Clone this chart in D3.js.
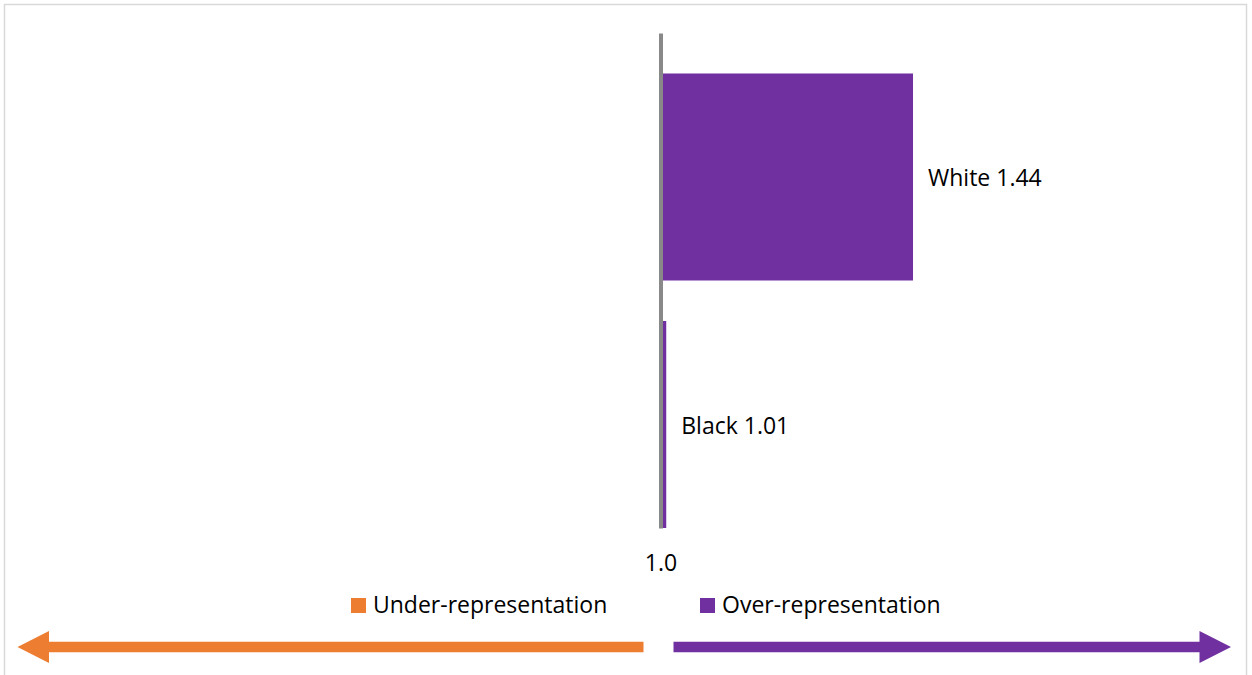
<!DOCTYPE html>
<html><head><meta charset="utf-8">
<script src="https://cdn.jsdelivr.net/npm/d3@7"></script>
<style>html,body{margin:0;padding:0;background:#fff;overflow:hidden}</style>
</head><body><svg id="c" width="1252" height="675"></svg>
<script>
const categories = ["White", "Black"];
const values = [1.44, 1.01];
const baseline = 1.0;
const tickValues = [1.0];
const legendLabels = ["Under-representation", "Over-representation"];
const legendColors = ["#ED7D31", "#7030A0"];

const W = 1252, H = 675;
const FONT = "'Open Sans', 'Noto Sans', sans-serif";
const FS = 23;
const svg = d3.select("#c");

// frame
svg.append("rect").attr("x", 4.5).attr("y", 4.5).attr("width", 1242).attr("height", 700)
  .attr("fill", "#fff").attr("stroke", "#d9d9d9").attr("stroke-width", 1.5);

const x = d3.scaleLinear().domain([0, 2]).range([86.6, 1234.4]);
const y = d3.scaleBand().domain(categories).range([33, 528])
  .paddingInner(0.1636).paddingOuter(0.0818).align(1);

const data = categories.map((c, i) => ({cat: c, v: values[i]}));

// bars
svg.append("g").selectAll("rect").data(data).join("rect")
  .attr("x", d => x(Math.min(baseline, d.v)))
  .attr("y", d => y(d.cat))
  .attr("width", d => Math.abs(x(d.v) - x(baseline)))
  .attr("height", y.bandwidth())
  .attr("fill", d => d.v >= baseline ? legendColors[1] : legendColors[0]);

// vertical baseline axis
const ax = svg.append("g").attr("transform", `translate(${x(baseline)},0)`)
  .call(d3.axisLeft(y).tickSize(0).tickSizeOuter(0).tickFormat(""));
ax.select(".domain").attr("stroke", "#898989").attr("stroke-width", 4);
ax.selectAll(".tick").remove();

// bottom tick label
const bx = svg.append("g").attr("transform", `translate(0,${y.range()[1]})`)
  .call(d3.axisBottom(x).tickValues(tickValues).tickFormat(d3.format(".1f")).tickSize(0).tickPadding(27));
bx.select(".domain").remove();
bx.selectAll("text").attr("font-family", FONT).attr("font-size", FS).attr("fill", "#000");

// data labels
svg.append("g").selectAll("text").data(data).join("text")
  .attr("x", d => x(d.v) + 15)
  .attr("y", d => y(d.cat) + y.bandwidth() / 2)
  .attr("dy", "0.4em")
  .attr("font-family", FONT).attr("font-size", FS).attr("fill", "#000")
  .text(d => `${d.cat} ${d3.format(".2f")(d.v)}`);

// legend
const legX = [351, 700];
const lg = svg.append("g").selectAll("g").data(legendLabels).join("g")
  .attr("transform", (d, i) => `translate(${legX[i]},598)`);
lg.append("rect").attr("width", 15).attr("height", 15).attr("fill", (d, i) => legendColors[i]);
lg.append("text").attr("x", 22).attr("y", 14.5)
  .attr("font-family", FONT).attr("font-size", FS).attr("fill", "#000").text(d => d);

// arrows
const ay = 647, shaft = 5.3, head = 16, headLen = 31.5;
const xc = x(baseline);
const leftEnd = xc - 17, leftTip = 17.5;
const rightStart = xc + 13, rightTip = 1231;
svg.append("path").attr("fill", legendColors[0]).attr("d",
  `M${leftEnd},${ay - shaft}L${leftTip + headLen},${ay - shaft}L${leftTip + headLen},${ay - head}` +
  `L${leftTip},${ay}L${leftTip + headLen},${ay + head}L${leftTip + headLen},${ay + shaft}L${leftEnd},${ay + shaft}Z`);
svg.append("path").attr("fill", legendColors[1]).attr("d",
  `M${rightStart},${ay - shaft}L${rightTip - headLen},${ay - shaft}L${rightTip - headLen},${ay - head}` +
  `L${rightTip},${ay}L${rightTip - headLen},${ay + head}L${rightTip - headLen},${ay + shaft}L${rightStart},${ay + shaft}Z`);
</script></body></html>
